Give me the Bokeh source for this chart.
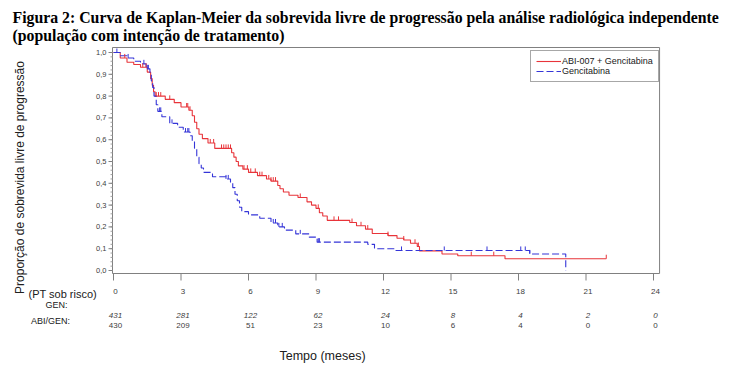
import numpy as np
from bokeh.plotting import figure
from bokeh.models import Range1d, Legend, LegendItem
from bokeh.core.properties import value
from bokeh.embed import file_html
from bokeh.resources import INLINE

# ---------------- data ----------------
title_1 = "Figura 2: Curva de Kaplan-Meier da sobrevida livre de progressão pela análise radiológica independente"
title_2 = "(população com intenção de tratamento)"
y_title = "Proporção de sobrevida livre de progressão"
x_title = "Tempo (meses)"
series_names = ["ABI-007 + Gencitabina", "Gencitabina"]

# ABI-007 + gemcitabine: step times (months) and survival after each step
abi_t = [0, 0.3, 0.6, 0.9, 1.2, 1.5, 1.65, 1.72, 1.78, 1.85, 2.3, 2.7, 3.0, 3.35,
         3.5, 3.6, 3.7, 3.8, 3.95, 4.2, 4.5, 5.25, 5.35, 5.45, 5.55, 5.75, 6.0,
         6.4, 6.8, 7.0, 7.3, 7.4, 7.55, 7.8, 8.2, 8.6, 8.8, 9.0, 9.15, 9.3, 9.5,
         10.5, 10.8, 11.2, 11.5, 12.2, 12.6, 12.9, 13.2, 13.5, 13.6, 14.6, 15.3,
         17.4, 21.9]
abi_s = [1.0, 0.975, 0.955, 0.945, 0.932, 0.91, 0.88, 0.85, 0.82, 0.80, 0.785,
         0.77, 0.75, 0.735, 0.71, 0.68, 0.65, 0.625, 0.605, 0.585, 0.56, 0.54,
         0.52, 0.50, 0.48, 0.465, 0.45, 0.435, 0.42, 0.41, 0.39, 0.375, 0.36,
         0.345, 0.335, 0.315, 0.30, 0.285, 0.265, 0.25, 0.23, 0.22, 0.205, 0.19,
         0.17, 0.16, 0.148, 0.14, 0.125, 0.11, 0.09, 0.076, 0.068, 0.054, 0.054]
abi_cens = [0.5, 1.3, 1.45, 1.9, 2.0, 2.1, 2.5, 3.25, 3.3, 3.4, 4.3, 4.45, 4.8,
            4.9, 5.0, 5.1, 5.2, 5.8, 5.95, 6.1, 6.3, 6.5, 6.6, 6.9, 7.0, 7.1,
            7.2, 8.3, 9.1, 9.8, 10.0, 10.6, 11.0, 11.3, 12.2, 12.9, 13.4, 13.55,
            15.9, 16.9, 21.9]

# gemcitabine alone
gen_t = [0, 0.3, 0.6, 0.9, 1.2, 1.45, 1.62, 1.68, 1.74, 1.8, 1.9, 1.97, 2.15,
         2.5, 2.85, 3.1, 3.4, 3.5, 3.6, 3.7, 3.8, 3.9, 4.0, 4.4, 5.0, 5.2, 5.3,
         5.4, 5.5, 5.6, 5.7, 6.0, 6.5, 7.0, 7.3, 7.6, 8.1, 8.7, 9.05, 11.3,
         11.6, 12.5, 18.5, 20.1]
gen_s = [1.0, 0.985, 0.975, 0.96, 0.948, 0.925, 0.90, 0.87, 0.84, 0.80, 0.76,
         0.73, 0.705, 0.675, 0.657, 0.635, 0.618, 0.595, 0.56, 0.52, 0.49, 0.47,
         0.45, 0.43, 0.42, 0.405, 0.38, 0.35, 0.32, 0.29, 0.27, 0.255, 0.24,
         0.218, 0.20, 0.185, 0.168, 0.153, 0.13, 0.12, 0.10, 0.092, 0.076, 0.0]
gen_cens = [0.15, 0.65, 1.35, 1.5, 1.55, 2.05, 2.1, 2.6, 3.2, 3.3, 3.35, 5.0,
            5.1, 7.1, 7.2, 7.35, 7.5, 8.3, 9.1, 9.15, 12.8, 14.7, 16.6, 18.1,
            18.3, 18.5]

x_ticks = [0, 3, 6, 9, 12, 15, 18, 21, 24]
x_tick_labels = ["0", "3", "6", "9", "12", "15", "18", "21", "24"]
y_ticks = [i / 10 for i in range(11)]
y_tick_labels = ["0,0", "0,1", "0,2", "0,3", "0,4", "0,5", "0,6", "0,7", "0,8", "0,9", "1,0"]
y_minor = [i / 50 for i in range(51)]

risk_header = "(PT sob risco)"
risk_label_1 = "GEN:"
risk_label_2 = "ABI/GEN:"
risk_row_1 = [431, 281, 122, 62, 24, 8, 4, 2, 0]
risk_row_2 = [430, 209, 51, 23, 10, 6, 4, 0, 0]

# axis limits of the plotting box
X_MIN, X_MAX = -0.044, 24.27
Y_MIN, Y_MAX = -0.0138, 1.0229

RED = "#e8343a"
BLUE = "#3535d8"
GRAY = "#808080"
TXT = "#404040"

# ---------------- scale (page pixels <-> data) ----------------
W, H = 735, 370
PX0, PXU = 113.0, 22.5      # pixel of t=0, pixels per month
PY0, PYU = 270.0, 218.0     # pixel of S=0, pixels per unit of S

def tx(px):
    return (px - PX0) / PXU

def ty(py):
    return (PY0 - py) / PYU

p = figure(width=W, height=H, output_backend="svg", toolbar_location=None,
           x_range=Range1d(tx(0), tx(W)), y_range=Range1d(ty(H), ty(0)),
           x_axis_type=None, y_axis_type=None,
           min_border=0, min_border_left=0, min_border_right=0,
           min_border_top=0, min_border_bottom=0)
p.xgrid.visible = False
p.ygrid.visible = False
p.outline_line_color = None
p.background_fill_color = "white"
p.border_fill_color = "white"

# plotting box
p.quad(left=[X_MIN], right=[X_MAX], bottom=[Y_MIN], top=[Y_MAX],
       fill_color=None, line_color=GRAY, line_width=1)

# curves
def surv_at(times, surv, pts):
    idx = np.searchsorted(np.array(times), np.array(pts), side="right") - 1
    return np.array(surv)[idx]

r_abi = p.step(abi_t, abi_s, mode="after", line_color=RED, line_width=1.1)
r_gen = p.step(gen_t, gen_s, mode="after", line_color=BLUE, line_width=1.1,
               line_dash="7 3")

tick_h = 4 / PYU
ya = surv_at(abi_t, abi_s, abi_cens)
p.segment(x0=abi_cens, y0=ya, x1=abi_cens, y1=ya + tick_h, line_color=RED, line_width=1)
yg = surv_at(gen_t, gen_s, gen_cens)
p.segment(x0=gen_cens, y0=yg, x1=gen_cens, y1=yg + tick_h, line_color=BLUE, line_width=1)

# x axis ticks and labels
xt = np.array(x_ticks, dtype=float)
p.segment(x0=xt, y0=np.full(len(xt), Y_MIN), x1=xt, y1=np.full(len(xt), Y_MIN - 7 / PYU),
          line_color=GRAY, line_width=1)
p.text(x=xt + tx(PX0 + 2), y=np.full(len(xt), ty(291)), text=x_tick_labels,
       text_font=value("Liberation Sans"), text_font_size="8px", text_color=TXT,
       text_align="center", text_baseline="middle")

# y axis ticks and labels
yt = np.array(y_ticks)
ym = np.array(y_minor)
p.segment(x0=np.full(len(ym), X_MIN), y0=ym, x1=np.full(len(ym), X_MIN - 2 / PXU), y1=ym,
          line_color="#a0a0a0", line_width=1)
p.segment(x0=np.full(len(yt), X_MIN), y0=yt, x1=np.full(len(yt), X_MIN - 4 / PXU), y1=yt,
          line_color=GRAY, line_width=1)
p.text(x=np.full(len(yt), tx(106)), y=yt, text=y_tick_labels,
       text_font=value("Liberation Sans"), text_font_size="7.5px", text_color=TXT,
       text_align="right", text_baseline="middle")

# legend
legend = Legend(items=[LegendItem(label=series_names[0], renderers=[r_abi]),
                       LegendItem(label=series_names[1], renderers=[r_gen])],
                location=(530, H - 82), glyph_width=25, glyph_height=10,
                label_height=10, label_standoff=1, spacing=0, padding=5,
                margin=0, border_line_color="#505050", border_line_width=1.5,
                label_text_font="Liberation Sans", label_text_font_size="9px",
                label_text_color="#202020", background_fill_alpha=1)
p.add_layout(legend, "center")

# texts
def lab(px, py, text, **kw):
    p.text(x=[tx(px)], y=[ty(py)], text=[text], text_baseline="middle", **kw)

lab(12, 17, title_1, text_font=value("Liberation Serif"), text_font_style="bold",
    text_font_size="15.8px", text_color="black")
lab(12, 35, title_2, text_font=value("Liberation Serif"), text_font_style="bold",
    text_font_size="15.8px", text_color="black")
lab(19, 177, y_title, angle=np.pi / 2, text_font=value("Liberation Sans"),
    text_font_size="12px", text_align="center", text_color="#202020")
lab(322, 355, x_title, text_font=value("Liberation Sans"), text_font_size="12.5px",
    text_align="center", text_color="#202020")
lab(28, 293, risk_header, text_font=value("Liberation Sans"), text_font_size="11px",
    text_align="left", text_color="#202020")
lab(56, 304, risk_label_1, text_font=value("Liberation Sans"), text_font_size="9px",
    text_align="center", text_color="#202020")
lab(50, 320, risk_label_2, text_font=value("Liberation Sans"), text_font_size="9px",
    text_align="center", text_color="#202020")
p.text(x=xt + tx(PX0 + 2), y=np.full(len(xt), ty(315)), text=[str(v) for v in risk_row_1],
       text_font=value("Liberation Sans"), text_font_size="8px", text_font_style="italic",
       text_color=TXT, text_align="center", text_baseline="middle")
p.text(x=xt + tx(PX0 + 2), y=np.full(len(xt), ty(325)), text=[str(v) for v in risk_row_2],
       text_font=value("Liberation Sans"), text_font_size="8px",
       text_color=TXT, text_align="center", text_baseline="middle")

open("out.html", "w").write(file_html(p, INLINE))
